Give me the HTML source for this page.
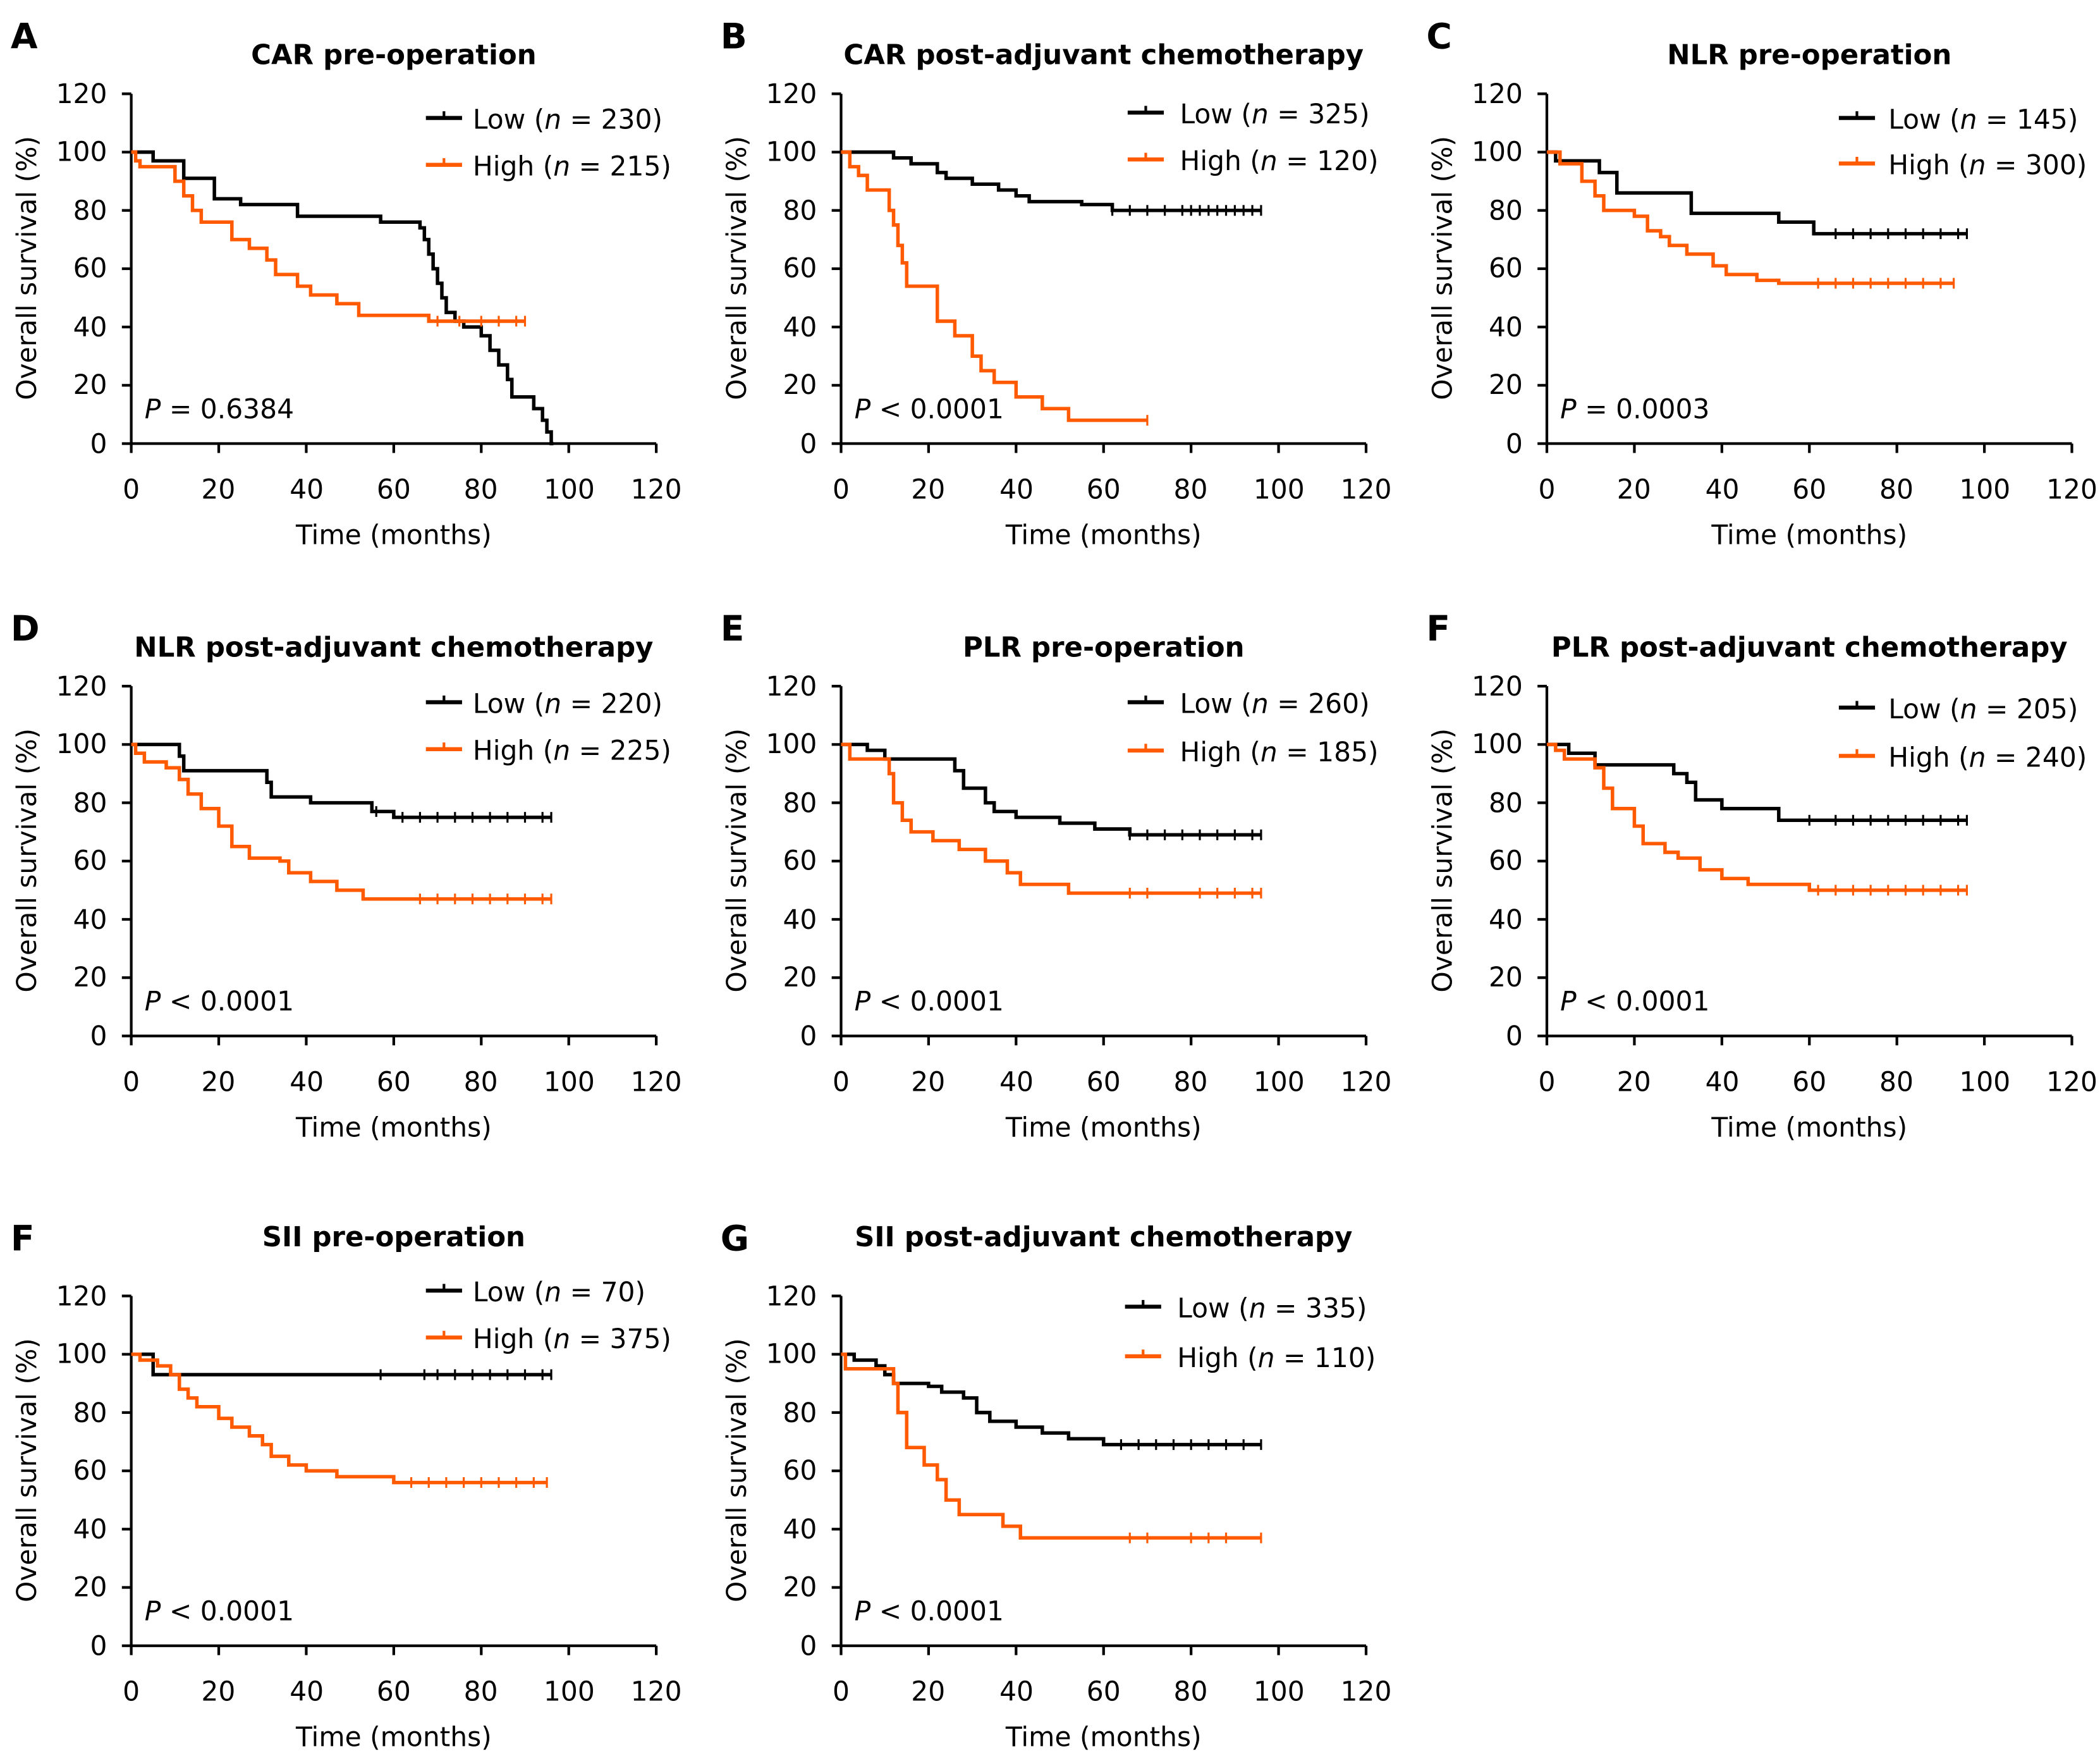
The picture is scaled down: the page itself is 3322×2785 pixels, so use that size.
<!DOCTYPE html>
<html><head><meta charset="utf-8"><style>
html,body{margin:0;padding:0;background:#fff}
svg{display:block}
text{font-family:"DejaVu Sans","Liberation Sans",sans-serif;fill:#000}
.t{font-size:20px}
.ti{font-size:20.5px;font-weight:bold;text-anchor:middle}
.L{font-size:26px;font-weight:bold}
.yl text{text-anchor:end}
.xl text{text-anchor:middle}
</style></head><body>
<svg id="s" width="3322" height="2785" viewBox="0 0 1568 1314" preserveAspectRatio="none" xmlns="http://www.w3.org/2000/svg">
<g id="p0" transform="translate(0,0)">
<text class="L" x="8" y="36">A</text>
<text class="ti" x="294" y="48">CAR pre-operation</text>
<text class="t" x="353" y="96">Low (<tspan font-style="italic">n</tspan> = 230)</text>
<text class="t" x="353" y="131">High (<tspan font-style="italic">n</tspan> = 215)</text>
<text class="t" x="108" y="312"><tspan font-style="italic">P</tspan> = 0.6384</text>
</g>
<g id="p1" transform="translate(530,0)">
<text class="L" x="8" y="36">B</text>
<text class="ti" x="294" y="48">CAR post-adjuvant chemotherapy</text>
<text class="t" x="351" y="92">Low (<tspan font-style="italic">n</tspan> = 325)</text>
<text class="t" x="351" y="127">High (<tspan font-style="italic">n</tspan> = 120)</text>
<text class="t" x="108" y="312"><tspan font-style="italic">P</tspan> &lt; 0.0001</text>
</g>
<g id="p2" transform="translate(1057,0)">
<text class="L" x="8" y="36">C</text>
<text class="ti" x="294" y="48">NLR pre-operation</text>
<text class="t" x="353" y="96">Low (<tspan font-style="italic">n</tspan> = 145)</text>
<text class="t" x="353" y="130">High (<tspan font-style="italic">n</tspan> = 300)</text>
<text class="t" x="108" y="312"><tspan font-style="italic">P</tspan> = 0.0003</text>
</g>
<g id="p3" transform="translate(0,442)">
<text class="L" x="8" y="36">D</text>
<text class="ti" x="294" y="48">NLR post-adjuvant chemotherapy</text>
<text class="t" x="353" y="90">Low (<tspan font-style="italic">n</tspan> = 220)</text>
<text class="t" x="353" y="125">High (<tspan font-style="italic">n</tspan> = 225)</text>
<text class="t" x="108" y="312"><tspan font-style="italic">P</tspan> &lt; 0.0001</text>
</g>
<g id="p4" transform="translate(530,442)">
<text class="L" x="8" y="36">E</text>
<text class="ti" x="294" y="48">PLR pre-operation</text>
<text class="t" x="351" y="90">Low (<tspan font-style="italic">n</tspan> = 260)</text>
<text class="t" x="351" y="126">High (<tspan font-style="italic">n</tspan> = 185)</text>
<text class="t" x="108" y="312"><tspan font-style="italic">P</tspan> &lt; 0.0001</text>
</g>
<g id="p5" transform="translate(1057,442)">
<text class="L" x="8" y="36">F</text>
<text class="ti" x="294" y="48">PLR post-adjuvant chemotherapy</text>
<text class="t" x="353" y="94">Low (<tspan font-style="italic">n</tspan> = 205)</text>
<text class="t" x="353" y="130">High (<tspan font-style="italic">n</tspan> = 240)</text>
<text class="t" x="108" y="312"><tspan font-style="italic">P</tspan> &lt; 0.0001</text>
</g>
<g id="p6" transform="translate(0,897)">
<text class="L" x="8" y="36">F</text>
<text class="ti" x="294" y="33">SII pre-operation</text>
<text class="t" x="353" y="74">Low (<tspan font-style="italic">n</tspan> = 70)</text>
<text class="t" x="353" y="109">High (<tspan font-style="italic">n</tspan> = 375)</text>
<text class="t" x="108" y="312"><tspan font-style="italic">P</tspan> &lt; 0.0001</text>
</g>
<g id="p7" transform="translate(530,897)">
<text class="L" x="8" y="36">G</text>
<text class="ti" x="294" y="33">SII post-adjuvant chemotherapy</text>
<text class="t" x="349" y="86">Low (<tspan font-style="italic">n</tspan> = 335)</text>
<text class="t" x="349" y="123">High (<tspan font-style="italic">n</tspan> = 110)</text>
<text class="t" x="108" y="312"><tspan font-style="italic">P</tspan> &lt; 0.0001</text>
</g>
</svg>
<svg style="position:absolute;left:0;top:0" width="3322" height="2785" viewBox="0 0 1568 1314" preserveAspectRatio="none">
<g class="t">
<g transform="translate(0,0)"><g class="yl"><text x="80" y="338">0</text><text x="80" y="294">20</text><text x="80" y="251">40</text><text x="80" y="207">60</text><text x="80" y="164">80</text><text x="80" y="120">100</text><text x="80" y="77">120</text></g><g class="xl"><text x="98" y="372">0</text><text x="163" y="372">20</text><text x="229" y="372">40</text><text x="294" y="372">60</text><text x="359" y="372">80</text><text x="425" y="372">100</text><text x="490" y="372">120</text></g><text x="294" y="406" text-anchor="middle">Time (months)</text><text transform="translate(27,200) rotate(-90)" text-anchor="middle">Overall survival (%)</text></g>
<g transform="translate(530,0)"><g class="yl"><text x="80" y="338">0</text><text x="80" y="294">20</text><text x="80" y="251">40</text><text x="80" y="207">60</text><text x="80" y="164">80</text><text x="80" y="120">100</text><text x="80" y="77">120</text></g><g class="xl"><text x="98" y="372">0</text><text x="163" y="372">20</text><text x="229" y="372">40</text><text x="294" y="372">60</text><text x="359" y="372">80</text><text x="425" y="372">100</text><text x="490" y="372">120</text></g><text x="294" y="406" text-anchor="middle">Time (months)</text><text transform="translate(27,200) rotate(-90)" text-anchor="middle">Overall survival (%)</text></g>
<g transform="translate(1057,0)"><g class="yl"><text x="80" y="338">0</text><text x="80" y="294">20</text><text x="80" y="251">40</text><text x="80" y="207">60</text><text x="80" y="164">80</text><text x="80" y="120">100</text><text x="80" y="77">120</text></g><g class="xl"><text x="98" y="372">0</text><text x="163" y="372">20</text><text x="229" y="372">40</text><text x="294" y="372">60</text><text x="359" y="372">80</text><text x="425" y="372">100</text><text x="490" y="372">120</text></g><text x="294" y="406" text-anchor="middle">Time (months)</text><text transform="translate(27,200) rotate(-90)" text-anchor="middle">Overall survival (%)</text></g>
<g transform="translate(0,442)"><g class="yl"><text x="80" y="338">0</text><text x="80" y="294">20</text><text x="80" y="251">40</text><text x="80" y="207">60</text><text x="80" y="164">80</text><text x="80" y="120">100</text><text x="80" y="77">120</text></g><g class="xl"><text x="98" y="372">0</text><text x="163" y="372">20</text><text x="229" y="372">40</text><text x="294" y="372">60</text><text x="359" y="372">80</text><text x="425" y="372">100</text><text x="490" y="372">120</text></g><text x="294" y="406" text-anchor="middle">Time (months)</text><text transform="translate(27,200) rotate(-90)" text-anchor="middle">Overall survival (%)</text></g>
<g transform="translate(530,442)"><g class="yl"><text x="80" y="338">0</text><text x="80" y="294">20</text><text x="80" y="251">40</text><text x="80" y="207">60</text><text x="80" y="164">80</text><text x="80" y="120">100</text><text x="80" y="77">120</text></g><g class="xl"><text x="98" y="372">0</text><text x="163" y="372">20</text><text x="229" y="372">40</text><text x="294" y="372">60</text><text x="359" y="372">80</text><text x="425" y="372">100</text><text x="490" y="372">120</text></g><text x="294" y="406" text-anchor="middle">Time (months)</text><text transform="translate(27,200) rotate(-90)" text-anchor="middle">Overall survival (%)</text></g>
<g transform="translate(1057,442)"><g class="yl"><text x="80" y="338">0</text><text x="80" y="294">20</text><text x="80" y="251">40</text><text x="80" y="207">60</text><text x="80" y="164">80</text><text x="80" y="120">100</text><text x="80" y="77">120</text></g><g class="xl"><text x="98" y="372">0</text><text x="163" y="372">20</text><text x="229" y="372">40</text><text x="294" y="372">60</text><text x="359" y="372">80</text><text x="425" y="372">100</text><text x="490" y="372">120</text></g><text x="294" y="406" text-anchor="middle">Time (months)</text><text transform="translate(27,200) rotate(-90)" text-anchor="middle">Overall survival (%)</text></g>
<g transform="translate(0,897)"><g class="yl"><text x="80" y="338">0</text><text x="80" y="294">20</text><text x="80" y="251">40</text><text x="80" y="207">60</text><text x="80" y="164">80</text><text x="80" y="120">100</text><text x="80" y="77">120</text></g><g class="xl"><text x="98" y="372">0</text><text x="163" y="372">20</text><text x="229" y="372">40</text><text x="294" y="372">60</text><text x="359" y="372">80</text><text x="425" y="372">100</text><text x="490" y="372">120</text></g><text x="294" y="406" text-anchor="middle">Time (months)</text><text transform="translate(27,200) rotate(-90)" text-anchor="middle">Overall survival (%)</text></g>
<g transform="translate(530,897)"><g class="yl"><text x="80" y="338">0</text><text x="80" y="294">20</text><text x="80" y="251">40</text><text x="80" y="207">60</text><text x="80" y="164">80</text><text x="80" y="120">100</text><text x="80" y="77">120</text></g><g class="xl"><text x="98" y="372">0</text><text x="163" y="372">20</text><text x="229" y="372">40</text><text x="294" y="372">60</text><text x="359" y="372">80</text><text x="425" y="372">100</text><text x="490" y="372">120</text></g><text x="294" y="406" text-anchor="middle">Time (months)</text><text transform="translate(27,200) rotate(-90)" text-anchor="middle">Overall survival (%)</text></g>
</g>
</svg>
<script>
try{
var NS="http://www.w3.org/2000/svg";
function el(p,n,a){var e=document.createElementNS(NS,n);for(var k in a)e.setAttribute(k,a[k]);p.appendChild(e);return e;}
var X=function(t){return 98+t*392/120;}, Y=function(s){return 331-s*261/120;};
var legY=[[88,123],[84,119],[88,122],[82,117],[82,118],[86,122],[66,101],[78,115]];
var legX=[318,312,316,318,312,316,318,310];
var D=[
 [[[[0,100],[5,97],[12,91],[19,84],[25,82],[38,78],[57,76],[66,74],[67,70],[68,65],[69,60],[70,55],[71,50],[72,45],[74,42],[76,40],[80,37],[82,32],[84,27],[86,22],[87,16],[92,12],[94,8],[95,4],[96,0],[96.5,0]],[]],
  [[[0,100],[1,97],[2,95],[10,90],[12,85],[14,80],[16,76],[23,70],[27,67],[31,63],[33,58],[38,54],[41,51],[47,48],[52,44],[68,42],[90,42]],[70,75,80,84,88,90]]],
 [[[[0,100],[12,98],[16,96],[22,93],[24,91],[30,89],[36,87],[40,85],[43,83],[55,82],[62,80],[96,80]],[62,66,70,74,78,80,82,84,86,88,90,92,94,96]],
  [[[0,100],[2,95],[4,92],[6,87],[11,80],[12,75],[13,68],[14,62],[15,54],[22,42],[26,37],[30,30],[32,25],[35,21],[40,16],[46,12],[52,8],[70,8]],[70]]],
 [[[[0,100],[2,97],[12,93],[16,86],[33,79],[53,76],[61,72],[96,72]],[66,70,74,78,82,86,90,94,96]],
  [[[0,100],[3,96],[8,90],[11,85],[13,80],[20,78],[23,73],[26,71],[28,68],[32,65],[38,61],[41,58],[48,56],[53,55],[93,55]],[62,66,70,74,78,82,86,90,93]]],
 [[[[0,100],[11,96],[12,91],[31,87],[32,82],[41,80],[55,77],[60,75],[96,75]],[56,62,66,70,74,78,82,86,90,94,96]],
  [[[0,100],[1,97],[3,94],[8,92],[11,88],[13,83],[16,78],[20,72],[23,65],[27,61],[34,60],[36,56],[41,53],[47,50],[53,47],[96,47]],[66,70,74,78,82,86,90,94,96]]],
 [[[[0,100],[6,98],[10,95],[26,91],[28,85],[33,80],[35,77],[40,75],[50,73],[58,71],[66,69],[96,69]],[66,70,74,78,82,86,90,94,96]],
  [[[0,100],[2,95],[11,90],[12,80],[14,74],[16,70],[21,67],[27,64],[33,60],[38,56],[41,52],[52,49],[96,49]],[66,70,82,86,90,94,96]]],
 [[[[0,100],[5,97],[11,93],[29,90],[32,87],[34,81],[40,78],[53,74],[96,74]],[60,66,70,74,78,82,86,90,94,96]],
  [[[0,100],[2,98],[4,95],[11,92],[13,85],[15,78],[20,72],[22,66],[27,63],[30,61],[35,57],[40,54],[46,52],[60,50],[96,50]],[62,66,70,74,78,82,86,90,94,96]]],
 [[[[0,100],[5,93],[96,93]],[57,67,70,74,78,82,86,90,94,96]],
  [[[0,100],[2,98],[6,96],[9,93],[11,88],[13,85],[15,82],[20,78],[23,75],[27,72],[30,69],[32,65],[36,62],[40,60],[47,58],[60,56],[95,56]],[64,68,72,76,80,84,88,92,95]]],
 [[[[0,100],[3,98],[8,96],[10,93],[12,90],[20,89],[23,87],[28,85],[31,80],[34,77],[40,75],[46,73],[52,71],[60,69],[96,69]],[64,68,72,76,80,84,88,92,96]],
  [[[0,100],[1,95],[12,90],[13,80],[15,68],[19,62],[22,57],[24,50],[27,45],[37,41],[41,37],[96,37]],[66,70,80,84,88,96]]]
];
var cols=["#000","#ff5a00"];
for(var i=0;i<8;i++){
 var g=document.getElementById("p"+i);
 var ax=el(g,"g",{stroke:"#000","stroke-width":2,fill:"none"});
 el(ax,"path",{d:"M98,70V331H490"});
 for(var s=0;s<=120;s+=20){el(ax,"line",{x1:91,x2:98,y1:Y(s),y2:Y(s)});}
 for(var t=0;t<=120;t+=20){el(ax,"line",{x1:X(t),x2:X(t),y1:331,y2:338});}
 for(var k=0;k<2;k++){
  var d=D[i][k],pts=d[0],p="M"+X(pts[0][0])+","+Y(pts[0][1]);
  for(var j=1;j<pts.length;j++){p+="H"+X(pts[j][0])+"V"+Y(pts[j][1]);}
  var gg=el(g,"g",{stroke:cols[k],"stroke-width":2.6,fill:"none"});
  el(gg,"path",{d:p});
  for(var c=0;c<d[1].length;c++){var cv=d[1][c],sv=pts[0][1];for(var j=0;j<pts.length;j++){if(pts[j][0]<=cv)sv=pts[j][1];}el(gg,"line",{x1:X(cv),x2:X(cv),y1:Y(sv)-4,y2:Y(sv)+4,"stroke-width":1.5});}
  var ly=legY[i][k],lx=legX[i];
  el(gg,"line",{x1:lx,x2:lx+27,y1:ly,y2:ly,"stroke-width":3});
  el(gg,"line",{x1:lx+13.5,x2:lx+13.5,y1:ly-5,y2:ly,"stroke-width":2});
 }
}
}catch(e){}
</script>
</body></html>
